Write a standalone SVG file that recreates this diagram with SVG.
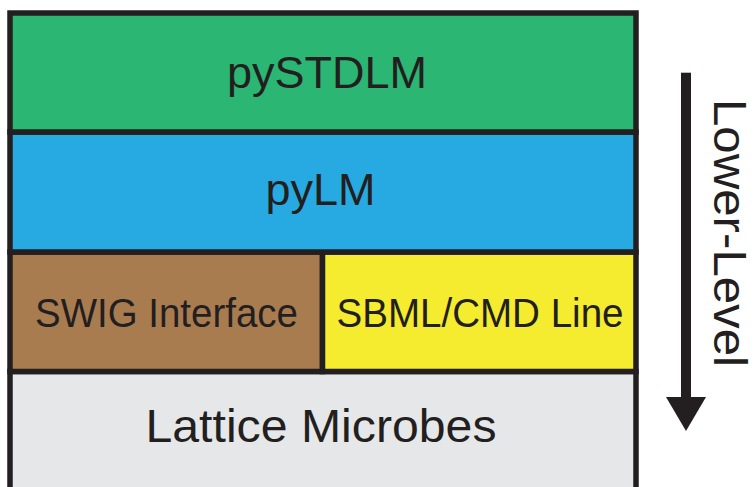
<svg xmlns="http://www.w3.org/2000/svg" width="756" height="487" viewBox="0 0 756 487">
<style>
.box{stroke:#231f20;stroke-width:5.5}
.lbl{font-family:"Liberation Sans",Arial,sans-serif;fill:#231f20;text-anchor:middle}
</style>
<rect width="756" height="487" fill="#ffffff"/>
<g id="lattice">
<rect class="box" x="10" y="371.5" width="626" height="130" fill="#e6e7e8"/>
<text class="lbl" x="321" y="441.5" font-size="46" textLength="351" lengthAdjust="spacingAndGlyphs">Lattice Microbes</text>
</g>
<g id="swig">
<rect class="box" x="10" y="252" width="312.5" height="119.5" fill="#a97c50"/>
<text class="lbl" x="166.5" y="326.5" font-size="40" textLength="263" lengthAdjust="spacingAndGlyphs">SWIG Interface</text>
</g>
<g id="sbml">
<rect class="box" x="322.5" y="252" width="313.5" height="119.5" fill="#f5eb2f"/>
<text class="lbl" x="480" y="326.5" font-size="40" textLength="287" lengthAdjust="spacingAndGlyphs">SBML/CMD Line</text>
</g>
<g id="pylm">
<rect class="box" x="10" y="132" width="626" height="120" fill="#27aae1"/>
<text class="lbl" x="320.5" y="205" font-size="45">pyLM</text>
</g>
<g id="pystdlm">
<rect class="box" x="10" y="13" width="626" height="119" fill="#2bb673"/>
<text class="lbl" x="327" y="88.3" font-size="45">pySTDLM</text>
</g>
<g id="connectors">
<rect x="681" y="72.7" width="10" height="325" fill="#231f20"/>
<polygon points="666,397 706,397 686,431" fill="#231f20"/>
</g>
<g id="lower-level">
<text class="lbl" transform="translate(714,233) rotate(90)" font-size="46" textLength="268" lengthAdjust="spacingAndGlyphs">Lower-Level</text>
</g>
</svg>
